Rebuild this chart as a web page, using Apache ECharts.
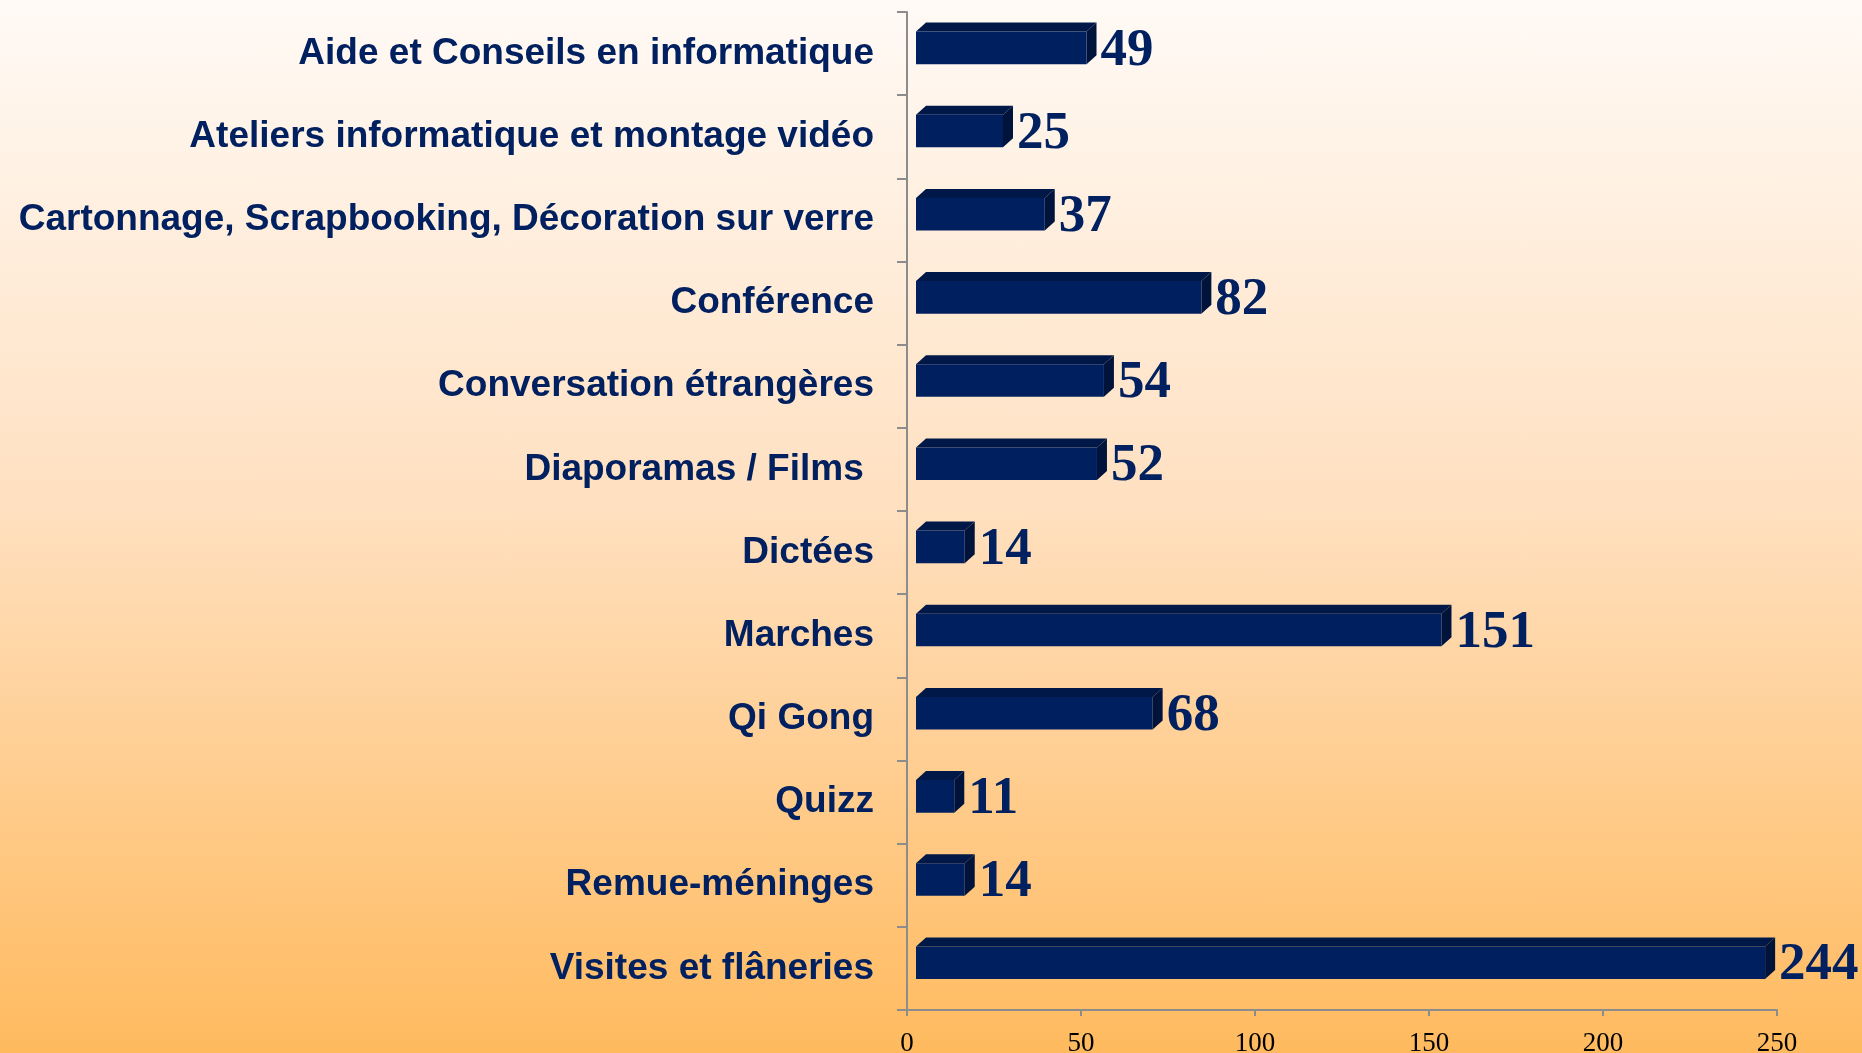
<!DOCTYPE html>
<html>
<head>
<meta charset="utf-8">
<script src="https://cdn.jsdelivr.net/npm/echarts@6/dist/echarts.min.js"></script>
<style>
html,body{margin:0;padding:0;width:100%;height:100%;}
#chart{width:1862px;height:1053px;background:linear-gradient(to bottom,#fffaf6 0%,#ffe0c0 48%,#ffba5e 100%);}
</style>
</head>
<body>
<div id="chart"></div>
<script>
const categories = [
  "Aide et Conseils en informatique",
  "Ateliers informatique et montage vidéo",
  "Cartonnage, Scrapbooking, Décoration sur verre",
  "Conférence",
  "Conversation étrangères",
  "Diaporamas / Films ",
  "Dictées",
  "Marches",
  "Qi Gong",
  "Quizz",
  "Remue-méninges",
  "Visites et flâneries"
];
const values = [49, 25, 37, 82, 54, 52, 14, 151, 68, 11, 14, 244];
const xTicks = [0, 50, 100, 150, 200, 250];

const chart = echarts.init(document.getElementById('chart'), null, {renderer: 'canvas'});

function renderBar(params, api) {
  const idx = api.value(0);
  const val = api.value(1);
  const c0 = api.coord([0, idx]);
  const c1 = api.coord([val, idx]);
  const band = api.size([0, 1])[1];
  const cy = c0[1];
  const off = 9, dx = 10, dy = 9;
  const x0 = c0[0] + off;
  const x1 = c1[0] + off;
  const ft = cy - 0.265 * band;
  const fb = cy + 0.127 * band;
  return {
    type: 'group',
    children: [
      {type: 'polygon', shape: {points: [[x0, ft], [x0 + dx, ft - dy], [x1 + dx, ft - dy], [x1, ft]]},
       style: {fill: '#001848'}},
      {type: 'polygon', shape: {points: [[x1, ft], [x1 + dx, ft - dy], [x1 + dx, fb - dy], [x1, fb]]},
       style: {fill: '#00133a'}},
      {type: 'rect', shape: {x: x0, y: ft, width: x1 - x0, height: fb - ft},
       style: {fill: '#001f5f'}},
      {type: 'text', x: x1 + dx + 4, y: (ft + fb) / 2 + 3,
       style: {text: String(val), fill: '#002060', font: 'bold 53px "Liberation Serif", "Times New Roman", serif',
               textAlign: 'left', textVerticalAlign: 'middle'}}
    ]
  };
}

chart.setOption({
  animation: false,
  grid: {left: 907, right: 85, top: 12, bottom: 43, containLabel: false, outerBoundsMode: 'none'},
  xAxis: {
    type: 'value', min: xTicks[0], max: xTicks[xTicks.length - 1], interval: 50,
    splitLine: {show: false},
    axisLine: {show: true, lineStyle: {color: '#8c8c8c', width: 2}},
    axisTick: {show: true, length: 6, lineStyle: {color: '#8c8c8c', width: 2}},
    axisLabel: {color: '#000', fontFamily: '"Liberation Serif", "Times New Roman", serif', fontSize: 27, margin: 20}
  },
  yAxis: {
    type: 'category', data: categories, inverse: true, boundaryGap: true,
    axisLine: {show: true, lineStyle: {color: '#8c8c8c', width: 2}},
    axisTick: {show: true, length: 10, interval: 0, lineStyle: {color: '#8c8c8c', width: 2}},
    axisLabel: {color: '#002060', fontFamily: '"Liberation Sans", Arial, sans-serif', fontWeight: 'bold',
                fontSize: 37, margin: 33, interval: 0, padding: [10, 0, 0, 0]}
  },
  series: [{
    type: 'custom',
    renderItem: renderBar,
    encode: {x: 1, y: 0},
    data: values.map((v, i) => [i, v])
  }]
});
</script>
</body>
</html>
